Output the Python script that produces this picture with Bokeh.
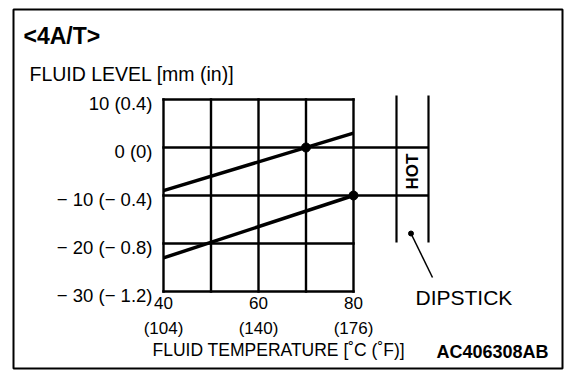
import math
from bokeh.plotting import figure
from bokeh.embed import file_html
from bokeh.resources import INLINE
from bokeh.core.properties import value

# ---- data ----
grid_temp = [40, 50, 60, 70, 80]
temp_tick_pos = [40, 60, 80]
temp_labels_c = ["40", "60", "80"]
temp_labels_f = ["(104)", "(140)", "(176)"]
level_ticks = [10, 0, -10, -20, -30]
level_labels = ["10 (0.4)", "0 (0)", "\u2212 10 (\u2212 0.4)", "\u2212 20 (\u2212 0.8)", "\u2212 30 (\u2212 1.2)"]
upper_x = [40, 80]
upper_y = [-9, 3]
lower_x = [40, 80]
lower_y = [-23, -10]
mark_x = [70, 80]
mark_y = [0, -10]
hot_levels = [0, -10]

# ---- layout (page pixels) ----
FL, FT, FW, FH = 13, 9, 549, 359
XPX, YPX = 4.75, 4.8
x_start = 40 - (163 - FL) / XPX
x_end = x_start + FW / XPX
y_end = 10 + (99 - FT) / YPX
y_start = y_end - FH / YPX


def X(px):
    return x_start + (px - FL) / XPX


def Y(py):
    return y_end - (py - FT) / YPX


FONT = value("Liberation Sans")

p = figure(width=568, height=372, x_range=(x_start, x_end), y_range=(y_start, y_end),
           output_backend="svg", toolbar_location=None,
           min_border_left=FL, min_border_right=6, min_border_top=FT, min_border_bottom=4)
p.axis.visible = False
p.grid.visible = False
p.outline_line_color = "black"
p.outline_line_width = 2
p.background_fill_color = "white"
p.border_fill_color = "white"

ymin, ymax = min(level_ticks), max(level_ticks)
xmin, xmax = min(grid_temp), max(grid_temp)

# grid
p.segment(x0=grid_temp, y0=[ymin] * len(grid_temp), x1=grid_temp, y1=[ymax] * len(grid_temp),
          line_color="black", line_width=2.4, line_cap="square")
p.segment(x0=[xmin] * len(level_ticks), y0=level_ticks, x1=[xmax] * len(level_ticks), y1=level_ticks,
          line_color="black", line_width=2.4, line_cap="square")

# dipstick
dx_left, dx_right = X(396), X(428)
p.segment(x0=[xmax] * len(hot_levels), y0=hot_levels, x1=[dx_right] * len(hot_levels), y1=hot_levels,
          line_color="black", line_width=2.4)
p.segment(x0=[dx_left, dx_right], y0=[Y(95), Y(95)], x1=[dx_left, dx_right], y1=[Y(242), Y(242)],
          line_color="black", line_width=2.2)
p.text(x=[(dx_left + dx_right) / 2], y=[sum(hot_levels) / 2], text=["HOT"], angle=math.pi / 2,
       text_font=FONT, text_font_style="bold", text_font_size="17px",
       text_align="center", text_baseline="middle", text_color="black")
p.scatter(x=[X(410.5)], y=[Y(233)], size=5, color="black")
p.segment(x0=[X(410.5)], y0=[Y(233)], x1=[X(432)], y1=[Y(277)], line_color="black", line_width=1.5)
p.text(x=[X(415)], y=[Y(297)], text=["DIPSTICK"], text_font=FONT, text_font_size="21px",
       text_align="left", text_baseline="alphabetic", text_color="black")

# data lines
p.line(upper_x, upper_y, line_color="black", line_width=3.5)
p.line(lower_x, lower_y, line_color="black", line_width=3.5)
p.scatter(mark_x, mark_y, size=9, color="black")

# y tick labels
p.text(x=[X(152)] * len(level_ticks), y=[v - 4 / YPX for v in level_ticks], text=level_labels,
       text_font=FONT, text_font_size="18.5px", text_align="right", text_baseline="alphabetic",
       text_color="black")
# x tick labels
p.text(x=temp_tick_pos, y=[Y(302)] * 3, text=temp_labels_c, text_font=FONT, text_font_size="17px",
       text_align="center", text_baseline="alphabetic", text_color="black")
p.text(x=temp_tick_pos, y=[Y(328)] * 3, text=temp_labels_f, text_font=FONT, text_font_size="17px",
       text_align="center", text_baseline="alphabetic", text_color="black")

# titles
p.text(x=[X(23)], y=[Y(35)], text=["<4A/T>"], text_font=FONT, text_font_style="bold",
       text_font_size="23px", text_align="left", text_baseline="alphabetic", text_color="black")
p.text(x=[X(29)], y=[Y(73)], text=["FLUID LEVEL [mm (in)]"], text_font=FONT, text_font_size="19.5px",
       text_align="left", text_baseline="alphabetic", text_color="black")
p.text(x=[X(152)], y=[Y(349)], text=["FLUID TEMPERATURE [\u02daC (\u02daF)]"], text_font=FONT,
       text_font_size="17.5px", text_align="left", text_baseline="alphabetic", text_color="black")
p.text(x=[X(548)], y=[Y(351)], text=["AC406308AB"], text_font=FONT, text_font_style="bold",
       text_font_size="18px", text_align="right", text_baseline="alphabetic", text_color="black")

open("out.html", "w").write(file_html(p, INLINE))
